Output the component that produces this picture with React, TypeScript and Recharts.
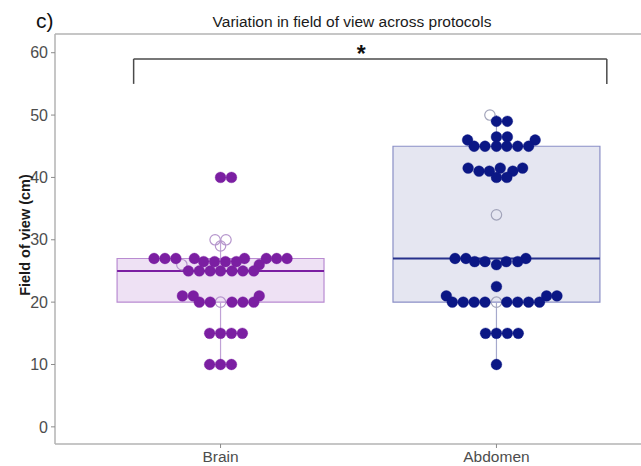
import { ComposedChart, Scatter, XAxis, YAxis, ReferenceArea, ReferenceLine, ReferenceDot } from 'recharts';

const categories = ['Brain', 'Abdomen'];

// box summary per protocol
const boxLow = [10, 10];
const boxQ1 = [20, 20];
const boxMedian = [25, 27];
const boxQ3 = [27, 45];
const boxHigh = [30, 50];

// [field of view (cm), swarm offset in dot widths]
const brainPoints: [number, number][] = [
  [40, 0], [40, 1],
  [27, -6.1], [27, -5.1], [27, -4.1], [27, -2.4], [27, 2.2], [27, 4.2], [27, 5.15], [27, 6.1],
  [26.5, -1.55], [26.5, -0.55], [26.5, 0.45], [26.5, 1.45],
  [26, 3.55],
  [25, -2.95], [25, -1.95], [25, -0.95], [25, 0], [25, 1.05], [25, 2.05], [25, 3.05],
  [21, -3.5], [21, -2.5], [21, 3.55],
  [20, -1.95], [20, -0.95], [20, 1.05], [20, 2.05], [20, 3.05],
  [15, -1], [15, 0], [15, 1], [15, 2],
  [10, -1], [10, 0], [10, 1],
];
const brainOpen: [number, number][] = [[30, -0.5], [30, 0.5], [29, 0], [26, -3.55], [20, 0]];

const abdomenPoints: [number, number][] = [
  [49, 0], [49, 1],
  [46.5, 0], [46.5, 1],
  [46, -2.65], [46, 3.55],
  [45, -2.05], [45, -1.05], [45, 0], [45, 0.95], [45, 1.95], [45, 2.95],
  [41.5, -2.6], [41.5, 0.35], [41.5, 2.4],
  [41, -1.6], [41, -0.65], [41, 1.5],
  [40, 0], [40, 0.95],
  [27, -3.8], [27, -2.8], [27, 2.7],
  [26.5, -2], [26.5, -1.05], [26.5, 0.9], [26.5, 1.95],
  [26, 0],
  [22.5, 0],
  [21, -4.6], [21, 4.6], [21, 5.55],
  [20, -4.05], [20, -3.05], [20, -2.05], [20, -1.05], [20, 0.95], [20, 1.95], [20, 2.95], [20, 3.95],
  [15, -1], [15, 0], [15, 1], [15, 2],
  [10, 0],
];
const abdomenOpen: [number, number][] = [[50, -0.6], [34, 0], [20, 0]];

const yTicks = [0, 10, 20, 30, 40, 50, 60];

// significance bracket: x span (category units), y from leg end to bar
const bracketX = [0.685, 2.4];
const bracketY = [55, 59];
const bracketStarX = 1.51;

const DOT_STEP = 0.0395;
const BOX_HALF = 0.375;
const FONT = 'Arial, "Liberation Sans", sans-serif';

const palette = [
  { dot: '#7b1fa2', open: '#b595cc', box: '#eee1f4', edge: '#b98bd1', median: '#7b1fa2', whisker: '#c0a2d6' },
  { dot: '#0b1785', open: '#a2a4ba', box: '#e5e6f1', edge: '#8b8fc6', median: '#27318c', whisker: '#a6a9cc' },
];

const toXY = (pts: [number, number][], cat: number) =>
  pts.map(([v, s]) => ({ x: cat + s * DOT_STEP, y: v }));

const filledShape = (color: string) => (p: any) =>
  <circle cx={p.cx} cy={p.cy} r={5.4} fill={color} stroke={color} strokeOpacity={0.6} strokeWidth={0.6} />;
const openShape = (color: string) => (p: any) =>
  <circle cx={p.cx} cy={p.cy} r={5.2} fill="none" stroke={color} strokeWidth={1.2} />;

const filled = [brainPoints, abdomenPoints];
const open = [brainOpen, abdomenOpen];

export default function App() {
  return (
    <div style={{ position: 'absolute', left: 0, top: 0, width: 641, height: 466, overflow: 'hidden', background: '#fff', fontFamily: FONT }}>
      <ComposedChart width={680} height={466} margin={{ top: 34, right: 18, bottom: 0, left: 0 }}>
        <XAxis
          type="number"
          dataKey="x"
          domain={[0.4, 2.6]}
          ticks={[1, 2]}
          tickFormatter={(v: number) => categories[v - 1]}
          height={22}
          tickSize={4}
          tickMargin={3}
          axisLine={{ stroke: '#b3b3b3', strokeWidth: 1.5 }}
          tickLine={{ stroke: '#8c8c8c' }}
          tick={{ fill: '#4d4d4d', fontSize: 15.5 }}
          allowDataOverflow
        />
        <YAxis
          type="number"
          dataKey="y"
          domain={[-2.75, 63]}
          ticks={yTicks}
          width={55}
          tickSize={4}
          tickMargin={3}
          axisLine={{ stroke: '#b3b3b3', strokeWidth: 1.5 }}
          tickLine={{ stroke: '#8c8c8c' }}
          tick={{ fill: '#4d4d4d', fontSize: 16 }}
          allowDataOverflow
        />
        <ReferenceLine y={63} stroke="#b3b3b3" strokeWidth={1.5} />

        {categories.map((c, i) => (
          <ReferenceArea
            key={`box-${c}`}
            x1={i + 1 - BOX_HALF}
            x2={i + 1 + BOX_HALF}
            y1={boxQ1[i]}
            y2={boxQ3[i]}
            fill={palette[i].box}
            fillOpacity={1}
            stroke={palette[i].edge}
            strokeWidth={1.2}
          />
        ))}
        {categories.map((c, i) => (
          <ReferenceLine
            key={`lo-${c}`}
            segment={[{ x: i + 1, y: boxLow[i] }, { x: i + 1, y: boxQ1[i] }]}
            stroke={palette[i].whisker}
            strokeWidth={1.2}
          />
        ))}
        {categories.map((c, i) => (
          <ReferenceLine
            key={`hi-${c}`}
            segment={[{ x: i + 1, y: boxQ3[i] }, { x: i + 1, y: boxHigh[i] }]}
            stroke={palette[i].whisker}
            strokeWidth={1.2}
          />
        ))}
        {categories.map((c, i) => (
          <ReferenceLine
            key={`med-${c}`}
            segment={[{ x: i + 1 - BOX_HALF, y: boxMedian[i] }, { x: i + 1 + BOX_HALF, y: boxMedian[i] }]}
            stroke={palette[i].median}
            strokeWidth={2}
          />
        ))}

        {categories.map((c, i) => (
          <Scatter
            key={`open-${c}`}
            data={toXY(open[i], i + 1)}
            shape={openShape(palette[i].open)}
            isAnimationActive={false}
          />
        ))}
        {categories.map((c, i) => (
          <Scatter
            key={`pts-${c}`}
            data={toXY(filled[i], i + 1)}
            shape={filledShape(palette[i].dot)}
            isAnimationActive={false}
          />
        ))}

        <ReferenceLine
          segment={[{ x: bracketX[0], y: bracketY[1] }, { x: bracketX[1], y: bracketY[1] }]}
          stroke="#4a4a4a"
          strokeWidth={1.5}
        />
        <ReferenceLine
          segment={[{ x: bracketX[0], y: bracketY[0] }, { x: bracketX[0], y: bracketY[1] }]}
          stroke="#4a4a4a"
          strokeWidth={1.5}
        />
        <ReferenceLine
          segment={[{ x: bracketX[1], y: bracketY[0] }, { x: bracketX[1], y: bracketY[1] }]}
          stroke="#4a4a4a"
          strokeWidth={1.5}
        />
        <ReferenceDot
          x={bracketStarX}
          y={bracketY[1]}
          r={0}
          stroke="none"
          label={{ value: '*', position: 'top', offset: -3, fontSize: 23, fontWeight: 'bold', fill: '#111' }}
        />
      </ComposedChart>

      <svg width={641} height={466} style={{ position: 'absolute', left: 0, top: 0, pointerEvents: 'none' }}>
        <text x={36} y={28} fontSize={21} fill="#111" fontFamily={FONT}>c)</text>
        <text x={352} y={27} fontSize={15.5} fill="#1a1a1a" textAnchor="middle" fontFamily={FONT}>
          Variation in field of view across protocols
        </text>
        <text
          transform="rotate(-90)"
          x={-235}
          y={30}
          fontSize={14.5}
          fontWeight="bold"
          fill="#1a1a1a"
          textAnchor="middle"
          fontFamily={FONT}
        >
          Field of view (cm)
        </text>
      </svg>
    </div>
  );
}
